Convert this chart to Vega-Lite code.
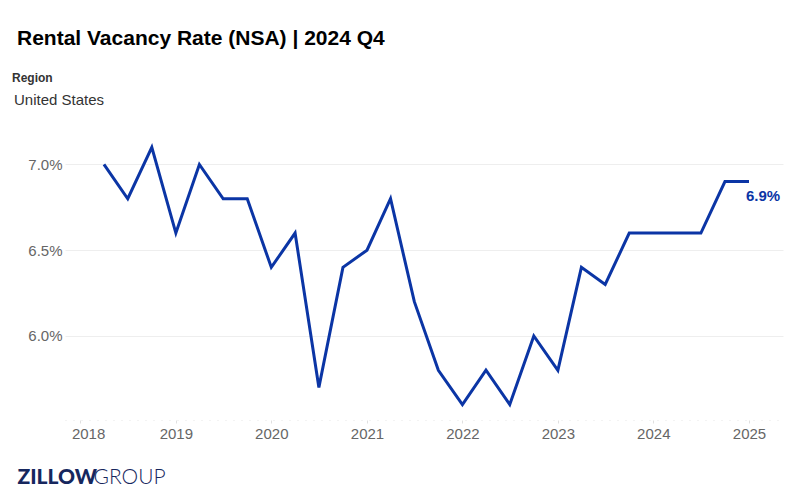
{
  "$schema": "https://vega.github.io/schema/vega-lite/v6.json",
  "autosize": {"type": "none"},
  "width": 718,
  "height": 283,
  "padding": {"left": 65, "top": 137, "right": 16, "bottom": 79},
  "background": "white",
  "title": {
    "text": "Rental Vacancy Rate (NSA) | 2024 Q4",
    "anchor": "start",
    "frame": "group",
    "dx": -48,
    "offset": 7,
    "baseline": "alphabetic",
    "font": "Liberation Sans",
    "fontSize": 21,
    "fontWeight": "bold",
    "color": "#000000"
  },
  "config": {
    "view": {"stroke": null},
    "font": "Liberation Sans"
  },
  "data": {
    "values": [
      {"date": "2018-04-01", "rate": 7.0, "region": "United States"},
      {"date": "2018-07-01", "rate": 6.8, "region": "United States"},
      {"date": "2018-10-01", "rate": 7.1, "region": "United States"},
      {"date": "2019-01-01", "rate": 6.6, "region": "United States"},
      {"date": "2019-04-01", "rate": 7.0, "region": "United States"},
      {"date": "2019-07-01", "rate": 6.8, "region": "United States"},
      {"date": "2019-10-01", "rate": 6.8, "region": "United States"},
      {"date": "2020-01-01", "rate": 6.4, "region": "United States"},
      {"date": "2020-04-01", "rate": 6.6, "region": "United States"},
      {"date": "2020-07-01", "rate": 5.7, "region": "United States"},
      {"date": "2020-10-01", "rate": 6.4, "region": "United States"},
      {"date": "2021-01-01", "rate": 6.5, "region": "United States"},
      {"date": "2021-04-01", "rate": 6.8, "region": "United States"},
      {"date": "2021-07-01", "rate": 6.2, "region": "United States"},
      {"date": "2021-10-01", "rate": 5.8, "region": "United States"},
      {"date": "2022-01-01", "rate": 5.6, "region": "United States"},
      {"date": "2022-04-01", "rate": 5.8, "region": "United States"},
      {"date": "2022-07-01", "rate": 5.6, "region": "United States"},
      {"date": "2022-10-01", "rate": 6.0, "region": "United States"},
      {"date": "2023-01-01", "rate": 5.8, "region": "United States"},
      {"date": "2023-04-01", "rate": 6.4, "region": "United States"},
      {"date": "2023-07-01", "rate": 6.3, "region": "United States"},
      {"date": "2023-10-01", "rate": 6.6, "region": "United States"},
      {"date": "2024-01-01", "rate": 6.6, "region": "United States"},
      {"date": "2024-04-01", "rate": 6.6, "region": "United States"},
      {"date": "2024-07-01", "rate": 6.6, "region": "United States"},
      {"date": "2024-10-01", "rate": 6.9, "region": "United States"},
      {"date": "2025-01-01", "rate": 6.9, "region": "United States"}
    ]
  },
  "encoding": {
    "x": {
      "field": "date",
      "type": "temporal",
      "scale": {"type": "utc", "domain": ["2017-11-03", "2025-05-11"]},
      "axis": {
        "title": "GROUP",
        "titleFont": "Lato",
        "titleFontWeight": 300,
        "titleFontSize": 21,
        "titleColor": "#16275e",
        "titleAlign": "left",
        "titleAnchor": "start",
        "titleBaseline": "alphabetic",
        "titleX": 28,
        "titleY": 63,
        "format": "%Y",
        "tickCount": {"interval": "year", "step": 1},
        "labelFontSize": 15,
        "labelColor": "#666666",
        "labelPadding": 3,
        "labelFlush": 20,
        "labelFlushOffset": 9,
        "grid": false,
        "domain": true,
        "domainColor": "#e6e6e6",
        "domainDash": [1, 7],
        "ticks": true,
        "tickSize": 3,
        "tickColor": "#e0e0e0"
      }
    },
    "y": {
      "field": "rate",
      "type": "quantitative",
      "scale": {"domain": [5.51, 7.16], "zero": false, "nice": false},
      "axis": {
        "title": "ZILLOW",
        "titleFont": "Lato",
        "titleFontWeight": 900,
        "titleFontSize": 21,
        "titleColor": "#16275e",
        "titleAngle": 0,
        "titleAlign": "left",
        "titleBaseline": "alphabetic",
        "titleX": -48,
        "titleY": 346,
        "values": [6.0, 6.5, 7.0],
        "labelExpr": "format(datum.value, '.1f') + '%'",
        "labelFontSize": 15,
        "labelColor": "#666666",
        "labelPadding": 3,
        "domain": false,
        "ticks": false,
        "grid": true,
        "gridColor": "#eeeeee"
      }
    }
  },
  "layer": [
    {
      "mark": {"type": "line", "strokeWidth": 3, "strokeJoin": "miter"},
      "encoding": {
        "color": {
          "field": "region",
          "type": "nominal",
          "scale": {"range": ["#0b35a5"]},
          "legend": {
            "title": "Region",
            "orient": "none",
            "legendX": -53,
            "legendY": -64,
            "titleFontSize": 12,
            "titleFontWeight": "bold",
            "titleColor": "#333333",
            "titlePadding": 7,
            "labelFontSize": 15,
            "labelColor": "#333333",
            "labelOffset": -13,
            "symbolSize": 0,
            "symbolOpacity": 0,
            "symbolStrokeWidth": 0
          }
        }
      }
    },
    {
      "transform": [
        {"filter": "utcyear(datum.date) == 2025"},
        {"calculate": "format(datum.rate, '.1f') + '%'", "as": "label"}
      ],
      "mark": {
        "type": "text",
        "align": "left",
        "baseline": "top",
        "dx": -3,
        "dy": 7,
        "fontSize": 15,
        "fontWeight": "bold",
        "color": "#0b35a5"
      },
      "encoding": {
        "text": {"field": "label", "type": "nominal"}
      }
    }
  ]
}
